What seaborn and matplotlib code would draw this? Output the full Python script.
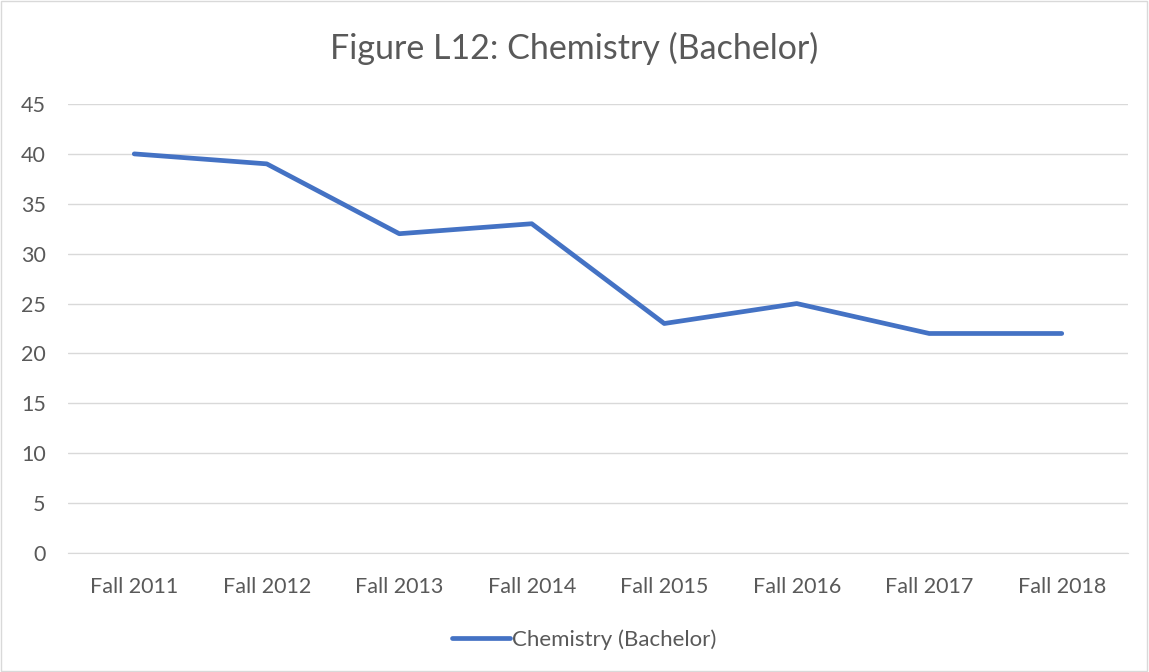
import seaborn as sns
import pandas as pd
import matplotlib.pyplot as plt
from matplotlib.patches import Rectangle

terms = ["Fall 2011", "Fall 2012", "Fall 2013", "Fall 2014",
         "Fall 2015", "Fall 2016", "Fall 2017", "Fall 2018"]
students = [40, 39, 32, 33, 23, 25, 22, 22]
series_name = "Chemistry (Bachelor)"
y_ticks = [0, 5, 10, 15, 20, 25, 30, 35, 40, 45]

sns.set_style("white")
plt.rcParams['font.family'] = ['Lato', 'DejaVu Sans']

df = pd.DataFrame({"term": terms, "value": students, "series": series_name})

fig = plt.figure(figsize=(11.49, 6.72), dpi=100)
ax = fig.add_axes([68 / 1149, 1 - 553 / 672, (1128 - 68) / 1149, (553 - 104) / 672])

sns.lineplot(data=df, x="term", y="value", hue="series", palette=["#4472C4"],
             linewidth=3.4, ax=ax, sort=False)

ax.set_xlim(-0.5, len(terms) - 0.5)
ax.set_ylim(0, 45)
ax.set_yticks(y_ticks)
ax.yaxis.grid(True, color="#D9D9D9", linewidth=1)
ax.set_axisbelow(True)
for s in ["top", "right", "left"]:
    ax.spines[s].set_visible(False)
ax.spines["bottom"].set_color("#D9D9D9")
ax.tick_params(axis="both", length=0, labelsize=15.5, colors="#595959")
ax.tick_params(axis="x", pad=17)
ax.tick_params(axis="y", pad=16)
ax.set_xlabel("")
ax.set_ylabel("")

fig.suptitle("Figure L12: Chemistry (Bachelor)", y=1 - 48 / 672, va="center",
             fontsize=24.5, color="#595959")

ax.legend(loc="center", bbox_to_anchor=(0.487, -0.192), frameon=False, fontsize=16,
          handlelength=2.6, handletextpad=0.1, labelcolor="#595959")

fig.patches.append(Rectangle((0.001, 0.001), 0.997, 0.997, transform=fig.transFigure,
                             fill=False, edgecolor="#D9D9D9", linewidth=1))

fig.savefig("out.png", dpi=100)
